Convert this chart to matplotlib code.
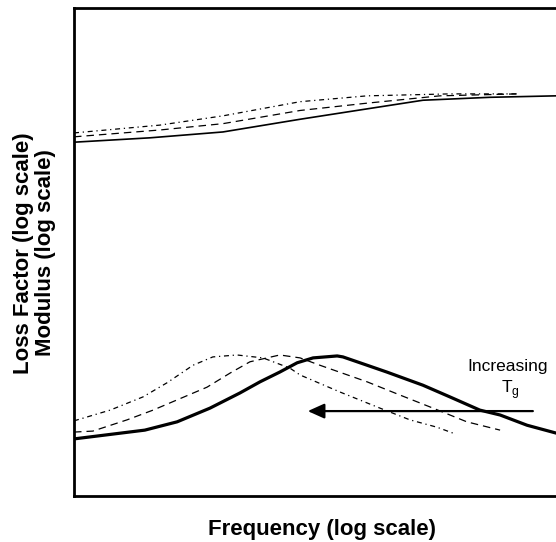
import matplotlib
matplotlib.use("Agg")
import matplotlib.pyplot as plt

# Normalised log-frequency (0-100) and normalised log-value (0-100)
mod_solid_x = [0, 15.8, 30.9, 46.9, 59.3, 72.4, 86.3, 100]
mod_solid_y = [72.5, 73.4, 74.6, 77.2, 79.1, 81.1, 81.7, 82.0]
mod_dash_x = [0, 17.8, 30.9, 46.9, 60.8, 75.9, 91.9]
mod_dash_y = [73.6, 75.0, 76.3, 79.0, 80.5, 82.0, 82.4]
mod_dot_x = [0, 17.8, 30.9, 46.9, 60.8, 78.0, 91.9]
mod_dot_y = [74.4, 76.0, 77.9, 80.8, 82.0, 82.4, 82.4]

loss_solid_x = [0, 14.7, 21.4, 28.2, 34.4, 38.6, 42.7, 46.3, 49.6, 54.6, 55.8,
                60.8, 64.9, 72.4, 78.0, 84.2, 88.4, 94.0, 100]
loss_solid_y = [11.7, 13.5, 15.2, 18.0, 21.1, 23.4, 25.4, 27.3, 28.3, 28.7, 28.5,
                26.8, 25.4, 22.7, 20.3, 17.6, 16.6, 14.5, 12.9]
loss_dash_x = [0, 3.9, 11.0, 16.4, 21.4, 27.6, 32.4, 36.5, 42.7, 46.9, 51.0,
               60.8, 67.6, 74.5, 81.5, 88.4]
loss_dash_y = [13.1, 13.3, 15.6, 17.6, 19.7, 22.3, 25.2, 27.5, 28.9, 28.3, 26.8,
               23.4, 20.7, 18.0, 15.2, 13.5]
loss_dot_x = [0, 7.5, 14.3, 19.3, 24.7, 28.8, 33.8, 39.2, 44.8, 46.9, 55.2,
              63.5, 69.7, 75.3, 78.6]
loss_dot_y = [15.4, 17.6, 20.3, 23.2, 26.8, 28.5, 28.9, 28.3, 26.2, 24.8, 21.3,
              18.0, 15.6, 14.1, 12.9]

arrow_start = (95.2, 17.4)
arrow_end = (48.5, 17.4)
label_increasing = "Increasing"
label_tg = r"T$_\mathregular{g}$"
xlabel = "Frequency (log scale)"
ylabel1 = "Loss Factor (log scale)"
ylabel2 = "Modulus (log scale)"

plt.rcParams['font.family'] = ['Liberation Sans', 'DejaVu Sans']

fig = plt.figure(figsize=(5.56, 5.42), dpi=100)
ax = fig.add_axes([74/556, 46/542, 482/556, 488/542])
ax.set_xlim(0, 100)
ax.set_ylim(0, 100)

dotstyle = (0, (4, 3, 1, 3))
dashstyle = (0, (6, 4))

ax.plot(mod_solid_x, mod_solid_y, color='black', lw=1.2, ls='-')
ax.plot(mod_dash_x, mod_dash_y, color='black', lw=0.9, ls=dashstyle)
ax.plot(mod_dot_x, mod_dot_y, color='black', lw=0.9, ls=dotstyle)

ax.plot(loss_solid_x, loss_solid_y, color='black', lw=2.3, ls='-')
ax.plot(loss_dash_x, loss_dash_y, color='black', lw=0.9, ls=dashstyle)
ax.plot(loss_dot_x, loss_dot_y, color='black', lw=0.9, ls=dotstyle)

ax.annotate('', xy=arrow_end, xytext=arrow_start,
            arrowprops=dict(arrowstyle='-|>,head_length=1.0,head_width=0.45',
                            color='black', lw=1.6, shrinkA=0, shrinkB=0))

ax.text(90.0, 26.6, label_increasing, ha='center', va='center', fontsize=12.5)
ax.text(90.5, 21.9, label_tg, ha='center', va='center', fontsize=12.5)

for s in ['left', 'top', 'bottom']:
    ax.spines[s].set_linewidth(2.0)
ax.spines['right'].set_visible(False)
ax.set_xticks([])
ax.set_yticks([])

fig.text(321.5/556, 1 - 529/542, xlabel, ha='center', va='center',
         fontsize=16, fontweight='bold')
fig.text(23.5/556, 1 - 253/542, ylabel1, ha='center', va='center',
         rotation=90, fontsize=16, fontweight='bold')
fig.text(46/556, 1 - 253/542, ylabel2, ha='center', va='center',
         rotation=90, fontsize=16, fontweight='bold')

fig.savefig('out.png', dpi=100)
